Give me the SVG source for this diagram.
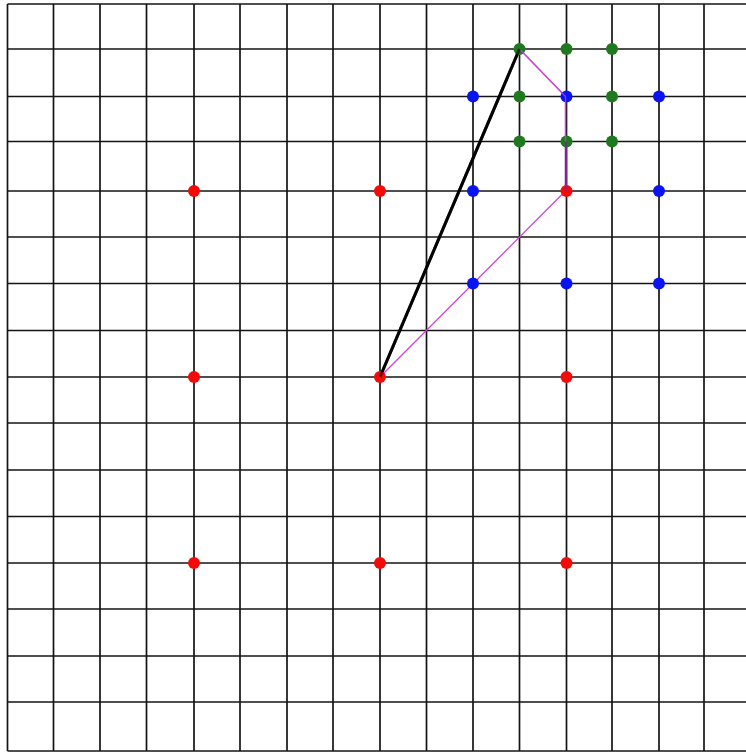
<svg xmlns="http://www.w3.org/2000/svg" width="746" height="753" viewBox="0 0 746 753">
<style>
.grid line{stroke:#141414;stroke-width:1.7}
.r{fill:#f50a0a}
.b{fill:#0a14f0}
.g{fill:#1f7a1f}
.mag{fill:none;stroke:#cc44d8;stroke-width:1.3}
.blk{fill:none;stroke:#000;stroke-width:3}
</style>
<defs>
<circle id="dot" r="6"/>
</defs>
<rect width="746" height="753" fill="#fff"/>
<g class="grid" id="grid">
<line x1="7.5" y1="4" x2="7.5" y2="751"/>
<line x1="53.5" y1="4" x2="53.5" y2="751"/>
<line x1="100" y1="4" x2="100" y2="751"/>
<line x1="146.5" y1="4" x2="146.5" y2="751"/>
<line x1="194" y1="4" x2="194" y2="751"/>
<line x1="240" y1="4" x2="240" y2="751"/>
<line x1="287" y1="4" x2="287" y2="751"/>
<line x1="333" y1="4" x2="333" y2="751"/>
<line x1="380" y1="4" x2="380" y2="751"/>
<line x1="426.5" y1="4" x2="426.5" y2="751"/>
<line x1="473" y1="4" x2="473" y2="751"/>
<line x1="519.5" y1="4" x2="519.5" y2="751"/>
<line x1="566.5" y1="4" x2="566.5" y2="751"/>
<line x1="612" y1="4" x2="612" y2="751"/>
<line x1="659" y1="4" x2="659" y2="751"/>
<line x1="704" y1="4" x2="704" y2="751"/>
<line x1="7.5" y1="4" x2="746" y2="4"/>
<line x1="7.5" y1="49" x2="746" y2="49"/>
<line x1="7.5" y1="96.5" x2="746" y2="96.5"/>
<line x1="7.5" y1="141.5" x2="746" y2="141.5"/>
<line x1="7.5" y1="191" x2="746" y2="191"/>
<line x1="7.5" y1="237" x2="746" y2="237"/>
<line x1="7.5" y1="283.5" x2="746" y2="283.5"/>
<line x1="7.5" y1="330.5" x2="746" y2="330.5"/>
<line x1="7.5" y1="377" x2="746" y2="377"/>
<line x1="7.5" y1="423" x2="746" y2="423"/>
<line x1="7.5" y1="470" x2="746" y2="470"/>
<line x1="7.5" y1="516.5" x2="746" y2="516.5"/>
<line x1="7.5" y1="563" x2="746" y2="563"/>
<line x1="7.5" y1="609" x2="746" y2="609"/>
<line x1="7.5" y1="656" x2="746" y2="656"/>
<line x1="7.5" y1="702" x2="746" y2="702"/>
<line x1="7.5" y1="751" x2="746" y2="751"/>
</g>
<g id="connectors">
<polyline class="mag" points="519.5,49 565.5,96.5 565.5,191 380,377"/>
<line x1="566" y1="141.5" x2="566" y2="191" stroke="#7a2a8a" stroke-width="2.2"/>
<line class="blk" x1="380" y1="377" x2="519.5" y2="49"/>
</g>
<g id="node-r1"><use href="#dot" class="r" x="194" y="191"/></g>
<g id="node-r2"><use href="#dot" class="r" x="380" y="191"/></g>
<g id="node-r3"><use href="#dot" class="r" x="566.5" y="191"/></g>
<g id="node-r4"><use href="#dot" class="r" x="194" y="377"/></g>
<g id="node-r5"><use href="#dot" class="r" x="380" y="377"/></g>
<g id="node-r6"><use href="#dot" class="r" x="566.5" y="377"/></g>
<g id="node-r7"><use href="#dot" class="r" x="194" y="563"/></g>
<g id="node-r8"><use href="#dot" class="r" x="380" y="563"/></g>
<g id="node-r9"><use href="#dot" class="r" x="566.5" y="563"/></g>
<g id="node-b1"><use href="#dot" class="b" x="473" y="96.5"/></g>
<g id="node-b2"><use href="#dot" class="b" x="566.5" y="96.5"/></g>
<g id="node-b3"><use href="#dot" class="b" x="659" y="96.5"/></g>
<g id="node-b4"><use href="#dot" class="b" x="473" y="191"/></g>
<g id="node-b5"><use href="#dot" class="b" x="659" y="191"/></g>
<g id="node-b6"><use href="#dot" class="b" x="473" y="283.5"/></g>
<g id="node-b7"><use href="#dot" class="b" x="566.5" y="283.5"/></g>
<g id="node-b8"><use href="#dot" class="b" x="659" y="283.5"/></g>
<g id="node-g1"><use href="#dot" class="g" x="519.5" y="49"/></g>
<g id="node-g2"><use href="#dot" class="g" x="566.5" y="49"/></g>
<g id="node-g3"><use href="#dot" class="g" x="612" y="49"/></g>
<g id="node-g4"><use href="#dot" class="g" x="519.5" y="96.5"/></g>
<g id="node-g5"><use href="#dot" class="g" x="612" y="96.5"/></g>
<g id="node-g6"><use href="#dot" class="g" x="519.5" y="141.5"/></g>
<g id="node-g7"><use href="#dot" class="g" x="566.5" y="141.5"/></g>
<g id="node-g8"><use href="#dot" class="g" x="612" y="141.5"/></g>
<g id="overlay">
<polyline class="mag" points="519.5,49 565.5,96.5 565.5,141.5" opacity="0.8"/>
<line x1="566" y1="141.5" x2="566" y2="191" stroke="#7a2a8a" stroke-width="2.2" opacity="0.7"/>
<line x1="380" y1="377" x2="519.5" y2="49" stroke="#000" stroke-width="3" opacity="0.6"/>
</g>
</svg>
